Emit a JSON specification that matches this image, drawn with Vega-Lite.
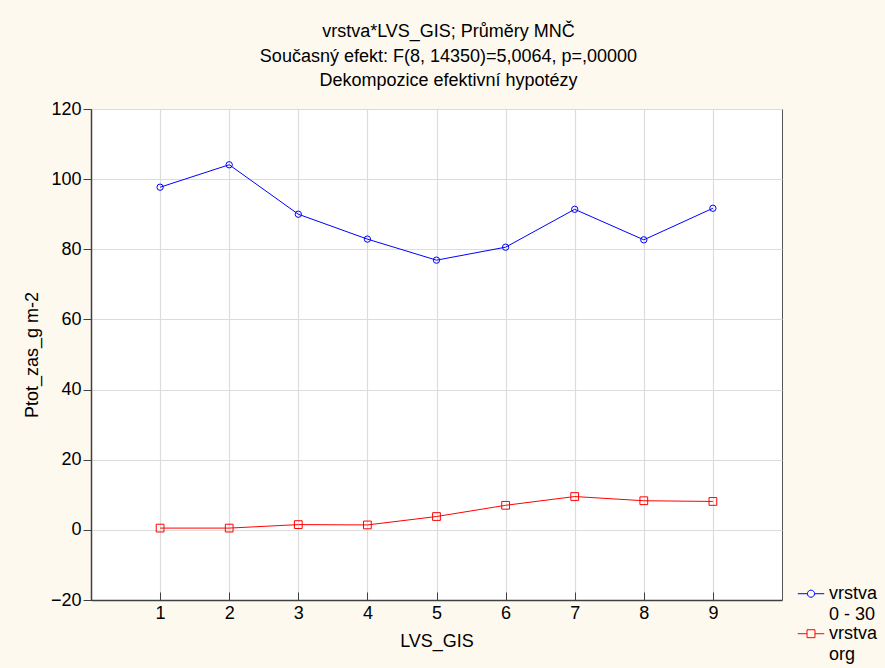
{
  "$schema": "https://vega.github.io/schema/vega-lite/v6.json",
  "width": 691,
  "height": 491,
  "autosize": {"type": "none"},
  "padding": {"left": 91, "top": 109, "right": 103, "bottom": 68},
  "background": "#FEF9EF",
  "title": {
    "text": ["vrstva*LVS_GIS; Průměry MNČ", "Současný efekt: F(8, 14350)=5,0064, p=,00000", "Dekompozice efektivní hypotézy"],
    "fontSize": 18,
    "font": "Liberation Sans",
    "fontWeight": "normal",
    "color": "#000000",
    "lineHeight": 24.5,
    "anchor": "middle",
    "dx": 12,
    "offset": 10
  },
  "config": {
    "view": {"stroke": "#555555", "fill": "#FFFFFF"},
    "font": "Liberation Sans",
    "axis": {
      "labelFont": "Liberation Sans",
      "titleFont": "Liberation Sans",
      "labelFontSize": 18,
      "titleFontSize": 18,
      "titleFontWeight": "normal",
      "labelColor": "#000000",
      "titleColor": "#000000",
      "gridColor": "#DCDCDC",
      "gridWidth": 1.2,
      "domainColor": "#404040",
      "domainWidth": 1.5,
      "tickColor": "#404040"
    }
  },
  "data": {
    "values": [
      {"series": "vrstva 0 - 30", "LVS_GIS": 1, "value": 97.7},
      {"series": "vrstva 0 - 30", "LVS_GIS": 2, "value": 104.1},
      {"series": "vrstva 0 - 30", "LVS_GIS": 3, "value": 90.0},
      {"series": "vrstva 0 - 30", "LVS_GIS": 4, "value": 82.9},
      {"series": "vrstva 0 - 30", "LVS_GIS": 5, "value": 76.9},
      {"series": "vrstva 0 - 30", "LVS_GIS": 6, "value": 80.6},
      {"series": "vrstva 0 - 30", "LVS_GIS": 7, "value": 91.4},
      {"series": "vrstva 0 - 30", "LVS_GIS": 8, "value": 82.7},
      {"series": "vrstva 0 - 30", "LVS_GIS": 9, "value": 91.7},
      {"series": "vrstva org", "LVS_GIS": 1, "value": 0.5},
      {"series": "vrstva org", "LVS_GIS": 2, "value": 0.5},
      {"series": "vrstva org", "LVS_GIS": 3, "value": 1.5},
      {"series": "vrstva org", "LVS_GIS": 4, "value": 1.4},
      {"series": "vrstva org", "LVS_GIS": 5, "value": 3.8},
      {"series": "vrstva org", "LVS_GIS": 6, "value": 7.0},
      {"series": "vrstva org", "LVS_GIS": 7, "value": 9.5},
      {"series": "vrstva org", "LVS_GIS": 8, "value": 8.3},
      {"series": "vrstva org", "LVS_GIS": 9, "value": 8.1}
    ]
  },
  "encoding": {
    "x": {
      "field": "LVS_GIS",
      "type": "quantitative",
      "title": "LVS_GIS",
      "scale": {"domain": [0, 10], "nice": false},
      "axis": {"values": [1, 2, 3, 4, 5, 6, 7, 8, 9], "tickSize": -8, "labelPadding": 12, "titlePadding": 10}
    },
    "y": {
      "field": "value",
      "type": "quantitative",
      "title": "Ptot_zas_g m-2",
      "scale": {"domain": [-20, 120], "nice": false},
      "axis": {"values": [-20, 0, 20, 40, 60, 80, 100, 120], "tickSize": 8, "labelPadding": 2, "titlePadding": 9}
    },
    "color": {
      "field": "series",
      "type": "nominal",
      "scale": {"domain": ["vrstva 0 - 30", "vrstva org"], "range": ["#0000FF", "#FF0000"]},
      "legend": {
        "title": null,
        "orient": "none",
        "legendX": 706,
        "legendY": 476,
        "labelFont": "Liberation Sans",
        "labelFontSize": 18,
        "labelColor": "#000000",
        "labelLimit": 200,
        "labelBaseline": "alphabetic",
        "labelExpr": "datum.label == 'vrstva 0 - 30' ? ['vrstva', '0 - 30'] : ['vrstva', 'org']",
        "symbolSize": 700,
        "symbolStrokeWidth": 1,
        "symbolFillColor": "transparent",
        "rowPadding": 1,
        "labelOffset": 4,
        "encode": {
          "labels": {"update": {"lineHeight": {"value": 20.5}}}
        }
      }
    }
  },
  "layer": [
    {"mark": {"type": "line", "strokeWidth": 1}},
    {
      "transform": [{"filter": "datum.series == 'vrstva 0 - 30'"}],
      "mark": {"type": "point", "shape": "circle", "size": 40, "filled": false, "strokeWidth": 1, "opacity": 1}
    },
    {
      "transform": [{"filter": "datum.series == 'vrstva org'"}],
      "mark": {"type": "point", "shape": "square", "size": 60, "filled": false, "strokeWidth": 1, "opacity": 1}
    },
    {
      "transform": [{"filter": "false"}],
      "mark": {"type": "point", "filled": false, "strokeWidth": 1, "opacity": 1, "size": 700},
      "encoding": {
        "shape": {
          "field": "series",
          "type": "nominal",
          "scale": {
            "domain": ["vrstva 0 - 30", "vrstva org"],
            "range": [
              "M-1,-0.4H-0.27M0.27,-0.4H1M-0.27,-0.4A0.27,0.27 0 1,1 0.27,-0.4A0.27,0.27 0 1,1 -0.27,-0.4",
              "M-1,-0.4H-0.3M0.3,-0.4H1M-0.3,-0.7H0.3V-0.1H-0.3Z"
            ]
          },
          "legend": {
            "title": null,
            "orient": "none",
            "legendX": 706,
            "legendY": 476,
            "labelFont": "Liberation Sans",
            "labelFontSize": 18,
            "labelColor": "#000000",
            "labelLimit": 200,
            "labelBaseline": "alphabetic",
            "labelExpr": "datum.label == 'vrstva 0 - 30' ? ['vrstva', '0 - 30'] : ['vrstva', 'org']",
            "symbolSize": 700,
            "symbolStrokeWidth": 1,
            "symbolFillColor": "transparent",
            "rowPadding": 1,
            "labelOffset": 4,
            "encode": {
              "labels": {"update": {"lineHeight": {"value": 20.5}}}
            }
          }
        }
      }
    }
  ]
}
